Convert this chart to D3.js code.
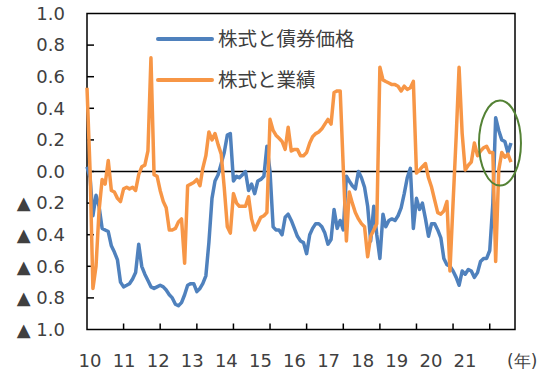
<!DOCTYPE html>
<html>
<head>
<meta charset="utf-8">
<script src="https://cdn.jsdelivr.net/npm/d3@7"></script>
<style>
  body { margin: 0; background: #fff; }
  svg { display: block; }
  .tick-label { font-family: "DejaVu Sans", Verdana, sans-serif; font-size: 18px; fill: #404040; }
  .legend-label { font-family: "Noto Sans CJK JP", sans-serif; font-size: 19.5px; fill: #404040; }
</style>
</head>
<body>
<div id="chart"></div>
<script>
// monthly observations, Jan 2010 .. Aug 2021
const months = d3.timeMonth.range(new Date(2010, 0, 1), new Date(2021, 8, 1));

const yearLabels = ["10", "11", "12", "13", "14", "15", "16", "17", "18", "19", "20", "21"];
const yTicks = [1.0, 0.8, 0.6, 0.4, 0.2, 0.0, -0.2, -0.4, -0.6, -0.8, -1.0];

const seriesNames = ["株式と債券価格", "株式と業績"];

// 株式と債券価格
const bondValues = [
  0.03, -0.04, -0.28, -0.15, -0.22, -0.36, -0.37, -0.38, -0.47, -0.51,
  -0.56, -0.70, -0.73, -0.72, -0.71, -0.68, -0.64, -0.46, -0.60, -0.65,
  -0.69, -0.73, -0.74, -0.73, -0.72, -0.73, -0.75, -0.78, -0.80, -0.84,
  -0.85, -0.83, -0.78, -0.72, -0.71, -0.71, -0.76, -0.74, -0.71, -0.66,
  -0.45, -0.17, -0.06, -0.02, 0.05, 0.12, 0.23, 0.24, -0.06, -0.03,
  -0.04, -0.02, 0.00, -0.12, -0.08, -0.14, -0.06, -0.05, -0.03, 0.16,
  0.00, -0.35, -0.37, -0.37, -0.40, -0.29, -0.27, -0.31, -0.36, -0.41,
  -0.44, -0.45, -0.52, -0.40, -0.36, -0.33, -0.33, -0.35, -0.39, -0.46,
  -0.43, -0.24, -0.36, -0.31, -0.37, -0.03, -0.06, -0.09, -0.11, 0.00,
  -0.04, -0.10, -0.22, -0.44, -0.22, -0.40, -0.55, -0.27, -0.35, -0.31,
  -0.30, -0.31, -0.28, -0.23, -0.14, -0.04, 0.02, -0.36, -0.17, -0.24,
  -0.20, -0.30, -0.41, -0.33, -0.33, -0.37, -0.42, -0.55, -0.59, -0.60,
  -0.63, -0.67, -0.72, -0.63, -0.65, -0.62, -0.63, -0.67, -0.64, -0.57,
  -0.55, -0.55, -0.50, -0.20, 0.34, 0.26, 0.20, 0.19, 0.12, 0.18
];

// 株式と業績
const earningsValues = [
  0.53, 0.00, -0.74, -0.60, -0.25, -0.05, -0.08, 0.07, -0.12, -0.13,
  -0.17, -0.19, -0.11, -0.10, -0.11, -0.10, -0.12, -0.02, 0.03, 0.04,
  0.13, 0.72, -0.02, -0.03, -0.12, -0.19, -0.23, -0.37, -0.37, -0.36,
  -0.32, -0.30, -0.58, -0.09, -0.08, -0.07, -0.05, -0.09, 0.02, 0.10,
  0.25, 0.20, 0.24, 0.17, 0.11, -0.10, -0.35, -0.39, -0.14, -0.20,
  -0.22, -0.22, -0.22, -0.16, -0.30, -0.37, -0.33, -0.29, -0.28, -0.26,
  0.33, 0.26, 0.23, 0.21, 0.19, 0.14, 0.28, 0.13, 0.14, 0.14,
  0.10, 0.10, 0.12, 0.18, 0.22, 0.24, 0.25, 0.27, 0.30, 0.33,
  0.30, 0.50, 0.51, 0.51, 0.02, -0.44, -0.13, -0.20, -0.26, -0.30,
  -0.33, -0.35, -0.54, -0.41, -0.37, -0.33, 0.66, 0.58, 0.57, 0.56,
  0.55, 0.55, 0.54, 0.51, 0.54, 0.52, 0.53, 0.57, -0.01, 0.01,
  0.03, 0.05, -0.04, -0.10, -0.18, -0.26, -0.27, -0.25, -0.19, -0.63,
  -0.20, 0.22, 0.66, 0.24, 0.01, 0.04, 0.06, 0.18, 0.10, 0.13,
  0.15, 0.16, 0.12, 0.12, -0.57, 0.01, 0.12, 0.09, 0.11, 0.06
];

const colors = ["#4f81bd", "#f79646"];
const axisColor = "#000000";

const width = 550;
const height = 377;
const margin = { top: 13.5, right: 35, bottom: 47.5, left: 87 };

const svg = d3.select("#chart")
  .append("svg")
  .attr("width", width)
  .attr("height", height);

const x = d3.scaleTime()
  .domain([new Date(2010, 0, 1), new Date(2021, 8, 10)])
  .range([margin.left, width - margin.right]);

const y = d3.scaleLinear()
  .domain([-1, 1])
  .range([height - margin.bottom, margin.top]);

const labelX = d3.scalePoint()
  .domain(yearLabels)
  .range([90, 465]);

const fmt = d3.format(".1f");

const plotLeft = margin.left;
const plotRight = width - margin.right;
const plotTop = margin.top;
const plotBottom = height - margin.bottom;

// y labels
svg.append("g")
  .selectAll("text")
  .data(yTicks)
  .join("text")
  .attr("class", "tick-label")
  .attr("x", plotLeft - 22)
  .attr("y", (d) => y(d))
  .attr("dy", "0.35em")
  .attr("text-anchor", "end")
  .text((d) => (d < 0 ? "▲ " + fmt(-d) : fmt(d)));

// x labels
svg.append("g")
  .selectAll("text")
  .data(yearLabels)
  .join("text")
  .attr("class", "tick-label")
  .attr("x", (d) => labelX(d))
  .attr("y", plotBottom + 37)
  .attr("text-anchor", "middle")
  .text((d) => d);

svg.append("text")
  .attr("class", "tick-label")
  .attr("x", 507)
  .attr("y", 367)
  .style("font-size", "17px")
  .text("(年)");

// frame
svg.append("rect")
  .attr("x", plotLeft)
  .attr("y", plotTop)
  .attr("width", plotRight - plotLeft)
  .attr("height", plotBottom - plotTop)
  .attr("fill", "none")
  .attr("stroke", axisColor)
  .attr("stroke-width", 1.5);

// y ticks (inward)
svg.append("g")
  .selectAll("line")
  .data(yTicks.slice(1, -1))
  .join("line")
  .attr("x1", plotLeft)
  .attr("x2", plotLeft + 7)
  .attr("y1", (d) => y(d))
  .attr("y2", (d) => y(d))
  .attr("stroke", axisColor)
  .attr("stroke-width", 1.5);

// x ticks (inward) at each year
svg.append("g")
  .selectAll("line")
  .data(d3.timeYear.range(new Date(2011, 0, 1), new Date(2022, 0, 1)))
  .join("line")
  .attr("x1", (d) => x(d))
  .attr("x2", (d) => x(d))
  .attr("y1", plotBottom)
  .attr("y2", plotBottom - 6)
  .attr("stroke", axisColor)
  .attr("stroke-width", 1.5);

// zero line
svg.append("line")
  .attr("x1", plotLeft)
  .attr("x2", plotRight)
  .attr("y1", y(0))
  .attr("y2", y(0))
  .attr("stroke", "#000")
  .attr("stroke-width", 1.5);

const line = d3.line()
  .x((d, i) => x(months[i]))
  .y((d) => y(d));

[bondValues, earningsValues].forEach((values, i) => {
  svg.append("path")
    .attr("fill", "none")
    .attr("stroke", colors[i])
    .attr("stroke-width", 3.5)
    .attr("stroke-linejoin", "round")
    .attr("d", line(values));
});

// legend
const legend = svg.append("g")
  .selectAll("g")
  .data(seriesNames)
  .join("g")
  .attr("transform", (d, i) => `translate(158,${39 + i * 41})`);

legend.append("line")
  .attr("x1", 0)
  .attr("x2", 54)
  .attr("stroke", (d, i) => colors[i])
  .attr("stroke-width", 4)
  .attr("stroke-linecap", "round");

legend.append("text")
  .attr("class", "legend-label")
  .attr("x", 60)
  .attr("dy", "0.35em")
  .text((d) => d);

// highlight around the latest readings
svg.append("ellipse")
  .attr("cx", x(new Date(2021, 3, 13)))
  .attr("cy", y(0.18))
  .attr("rx", 21)
  .attr("ry", 42.5)
  .attr("fill", "none")
  .attr("stroke", "#548235")
  .attr("stroke-width", 2);
</script>
</body>
</html>
